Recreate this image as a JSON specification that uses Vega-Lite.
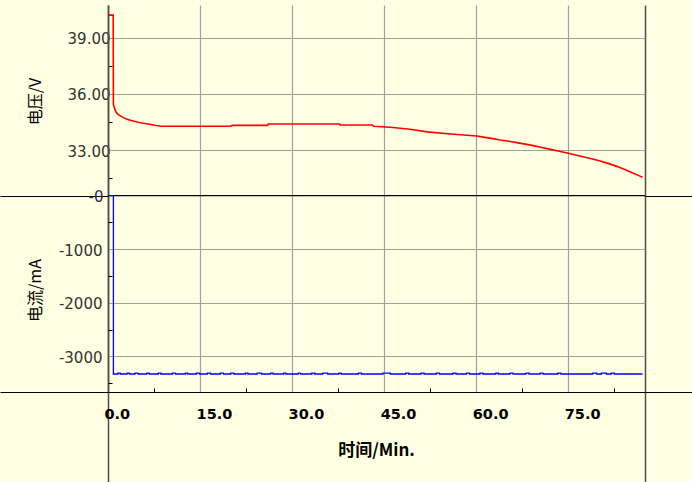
{
  "$schema": "https://vega.github.io/schema/vega-lite/v6.json",
  "width": 537,
  "height": 387,
  "autosize": {"type": "none"},
  "padding": {"left": 108, "top": 5, "right": 47, "bottom": 90},
  "background": "#FFFFE3",
  "config": {"view": {"stroke": null}},
  "datasets": {
    "zero": [{"mA": 0}],
    "voltage": [
      {"t": 0, "V": 40.2}, {"t": 0.85, "V": 40.2}, {"t": 0.88, "V": 35.45}, {"t": 1.0, "V": 35.3},
      {"t": 1.3, "V": 35.04}, {"t": 1.6, "V": 34.93}, {"t": 2.0, "V": 34.83}, {"t": 2.5, "V": 34.74},
      {"t": 3.0, "V": 34.67}, {"t": 3.5, "V": 34.61}, {"t": 4.1, "V": 34.56}, {"t": 4.7, "V": 34.51},
      {"t": 5.3, "V": 34.47}, {"t": 6.0, "V": 34.43}, {"t": 6.8, "V": 34.39}, {"t": 7.6, "V": 34.33},
      {"t": 8.7, "V": 34.28}, {"t": 20.0, "V": 34.28}, {"t": 20.2, "V": 34.33}, {"t": 26.0, "V": 34.33},
      {"t": 26.1, "V": 34.4}, {"t": 37.7, "V": 34.4}, {"t": 37.8, "V": 34.35}, {"t": 43.1, "V": 34.35},
      {"t": 43.3, "V": 34.28}, {"t": 46.0, "V": 34.23}, {"t": 49.2, "V": 34.12}, {"t": 52.0, "V": 33.98},
      {"t": 55.8, "V": 33.87}, {"t": 58.5, "V": 33.8}, {"t": 60.1, "V": 33.76}, {"t": 61.4, "V": 33.69},
      {"t": 62.7, "V": 33.62}, {"t": 63.9, "V": 33.55}, {"t": 65.3, "V": 33.48}, {"t": 66.6, "V": 33.41},
      {"t": 68.0, "V": 33.33}, {"t": 69.3, "V": 33.25}, {"t": 70.7, "V": 33.15}, {"t": 72.1, "V": 33.05},
      {"t": 73.5, "V": 32.95}, {"t": 75.0, "V": 32.84}, {"t": 76.2, "V": 32.75}, {"t": 77.4, "V": 32.66},
      {"t": 78.8, "V": 32.55}, {"t": 80.2, "V": 32.43}, {"t": 81.6, "V": 32.29}, {"t": 83.0, "V": 32.13},
      {"t": 84.3, "V": 31.96}, {"t": 85.6, "V": 31.78}, {"t": 86.5, "V": 31.65}, {"t": 87.1, "V": 31.56}
    ],
    "current": [
      {"t": 0, "mA": 0}, {"t": 0.88, "mA": -3331}, {"t": 1.6, "mA": -3313}, {"t": 2.0, "mA": -3331},
      {"t": 3.1, "mA": -3313}, {"t": 3.5, "mA": -3331}, {"t": 4.4, "mA": -3313}, {"t": 4.9, "mA": -3331},
      {"t": 6.3, "mA": -3313}, {"t": 6.7, "mA": -3331}, {"t": 8.2, "mA": -3313}, {"t": 8.6, "mA": -3331},
      {"t": 10.5, "mA": -3313}, {"t": 11.0, "mA": -3331}, {"t": 12.6, "mA": -3313}, {"t": 13.0, "mA": -3331},
      {"t": 14.4, "mA": -3313}, {"t": 14.9, "mA": -3331}, {"t": 16.2, "mA": -3313}, {"t": 16.7, "mA": -3331},
      {"t": 18.3, "mA": -3313}, {"t": 18.8, "mA": -3331}, {"t": 20.0, "mA": -3313}, {"t": 20.5, "mA": -3331},
      {"t": 22.4, "mA": -3313}, {"t": 22.8, "mA": -3331}, {"t": 24.3, "mA": -3313}, {"t": 25.0, "mA": -3331},
      {"t": 26.5, "mA": -3313}, {"t": 26.9, "mA": -3331}, {"t": 28.6, "mA": -3313}, {"t": 29.0, "mA": -3331},
      {"t": 31.0, "mA": -3313}, {"t": 31.4, "mA": -3331}, {"t": 33.2, "mA": -3313}, {"t": 33.7, "mA": -3331},
      {"t": 35.0, "mA": -3313}, {"t": 35.8, "mA": -3331}, {"t": 37.6, "mA": -3313}, {"t": 38.0, "mA": -3331},
      {"t": 40.8, "mA": -3313}, {"t": 41.3, "mA": -3331}, {"t": 44.8, "mA": -3313}, {"t": 46.0, "mA": -3331},
      {"t": 48.5, "mA": -3313}, {"t": 49.0, "mA": -3331}, {"t": 51.0, "mA": -3313}, {"t": 51.5, "mA": -3331},
      {"t": 53.5, "mA": -3313}, {"t": 54.0, "mA": -3331}, {"t": 56.2, "mA": -3313}, {"t": 56.7, "mA": -3331},
      {"t": 58.4, "mA": -3313}, {"t": 58.9, "mA": -3331}, {"t": 60.6, "mA": -3313}, {"t": 61.1, "mA": -3331},
      {"t": 63.2, "mA": -3313}, {"t": 63.6, "mA": -3331}, {"t": 65.5, "mA": -3313}, {"t": 66.0, "mA": -3331},
      {"t": 68.1, "mA": -3313}, {"t": 68.6, "mA": -3331}, {"t": 70.4, "mA": -3313}, {"t": 70.9, "mA": -3331},
      {"t": 73.3, "mA": -3313}, {"t": 73.8, "mA": -3331}, {"t": 79.0, "mA": -3313}, {"t": 79.6, "mA": -3331},
      {"t": 80.4, "mA": -3313}, {"t": 81.2, "mA": -3331}, {"t": 82.0, "mA": -3313}, {"t": 82.5, "mA": -3331},
      {"t": 87.1, "mA": -3331}
    ]
  },
  "layer": [
    {
      "data": {"name": "zero"},
      "mark": {"type": "rule", "color": "black", "strokeWidth": 1.2},
      "encoding": {
        "y": {
          "field": "mA", "type": "quantitative",
          "scale": {"domain": [-3667, 3562], "nice": false, "zero": false},
          "axis": {
            "orient": "right", "values": [0, -3667], "tickSize": 47, "tickColor": "black", "tickWidth": 1.2,
            "labels": false, "domain": false, "grid": false, "title": null
          }
        }
      }
    },
    {
      "data": {"name": "voltage"},
      "mark": {"type": "line", "color": "#FF0000", "strokeWidth": 1.6},
      "encoding": {
        "x": {
          "field": "t", "type": "quantitative",
          "scale": {"domain": [0, 87.5], "nice": false, "zero": false},
          "axis": {
            "orient": "bottom",
            "values": [0, 7.5, 15, 22.5, 30, 37.5, 45, 52.5, 60, 67.5, 75, 82.5, 87.5],
            "labelExpr": "datum.value % 15 == 0 ? format(datum.value, '.1f') : ''",
            "labelAlign": "left", "labelBaseline": "middle", "labelOffset": -4,
            "labelPadding": {"condition": {"test": "datum.value == 0", "value": -68}, "value": 26},
            "labelFont": "DejaVu Sans", "labelFontWeight": "bold", "labelFontSize": 14.5, "labelColor": "black",
            "labelOverlap": false, "labelFlush": false, "labelBound": false,
            "ticks": true,
            "tickSize": {"condition": {"test": "datum.value == 0 || datum.value == 87.5", "value": 90}, "value": -4},
            "tickColor": {"condition": {"test": "datum.value == 0 || datum.value == 87.5", "value": "#4d4d4d"}, "value": "black"},
            "tickWidth": {"condition": {"test": "datum.value == 0 || datum.value == 87.5", "value": 1.5}, "value": 1},
            "tickOpacity": {"condition": {"test": "datum.value % 15 == 0 && datum.value != 0", "value": 0}, "value": 1},
            "grid": true,
            "gridColor": {"condition": {"test": "datum.value == 0 || datum.value == 87.5", "value": "#4d4d4d"}, "value": "#a0a0a0"},
            "gridWidth": {"condition": {"test": "datum.value == 0 || datum.value == 87.5", "value": 1.5}, "value": 1.2},
            "gridOpacity": {"condition": {"test": "datum.value % 15 == 7.5", "value": 0}, "value": 1},
            "domain": true, "domainColor": "black", "domainWidth": 1.2,
            "title": "时间/Min.", "titleFont": "Noto Sans CJK SC", "titleFontWeight": "bold", "titleFontSize": 17,
            "titleColor": "black", "titleX": 268, "titleY": 58, "titleBaseline": "middle", "titleAlign": "center"
          }
        },
        "y": {
          "field": "V", "type": "quantitative",
          "scale": {"domain": [20.121, 40.742], "nice": false, "zero": false},
          "axis": {
            "orient": "left",
            "values": [39, 37.5, 36, 34.5, 33, 31.5],
            "labelExpr": "datum.value % 3 == 0 ? format(datum.value, '.2f') : ''",
            "labelFont": "DejaVu Sans", "labelFontSize": 15, "labelColor": "#333333",
            "labelPadding": 2, "labelOffset": 1, "labelBaseline": "middle", "labelAlign": "right",
            "labelOverlap": false, "labelBound": false, "labelFlush": false,
            "tickSize": -4, "tickColor": "black", "tickWidth": 1,
            "tickOpacity": {"condition": {"test": "datum.value % 3 == 0", "value": 0}, "value": 1},
            "grid": true, "gridColor": "#a0a0a0", "gridWidth": 1.2,
            "gridOpacity": {"condition": {"test": "datum.value % 3 != 0", "value": 0}, "value": 1},
            "domain": true, "domainColor": "#4d4d4d", "domainWidth": 1.5,
            "title": "电压/V", "titleFont": "Noto Sans CJK SC", "titleFontSize": 16, "titleFontWeight": "normal",
            "titleColor": "black", "titleAngle": -90, "titleX": -73, "titleY": 96,
            "titleBaseline": "middle", "titleAlign": "center"
          }
        }
      }
    },
    {
      "data": {"name": "current"},
      "mark": {"type": "line", "color": "#0000FF", "strokeWidth": 1.3, "interpolate": "step-after"},
      "encoding": {
        "x": {"field": "t", "type": "quantitative", "scale": {"domain": [0, 87.5], "nice": false, "zero": false}},
        "y": {
          "field": "mA", "type": "quantitative",
          "scale": {"domain": [-3667, 3562], "nice": false, "zero": false},
          "axis": {
            "orient": "left",
            "values": [0, -500, -1000, -1500, -2000, -2500, -3000, -3500, -3667],
            "labelExpr": "datum.value == 0 ? '-0' : (datum.value % 1000 == 0 ? '-' + (-datum.value) : '')",
            "labelFont": "DejaVu Sans", "labelFontSize": 15, "labelColor": "#333333",
            "labelPadding": {"condition": {"test": "datum.value == 0", "value": -103}, "value": 10},
            "labelOffset": 1, "labelBaseline": "middle", "labelAlign": "right",
            "labelOverlap": false, "labelBound": false, "labelFlush": false,
            "tickSize": {"condition": {"test": "datum.value == 0 || datum.value < -3600", "value": 108}, "value": -4},
            "tickColor": "black",
            "tickWidth": {"condition": {"test": "datum.value == 0 || datum.value < -3600", "value": 1.2}, "value": 1},
            "tickOpacity": {"condition": {"test": "datum.value % 1000 == 0 && datum.value != 0", "value": 0}, "value": 1},
            "grid": true, "gridColor": "#a0a0a0", "gridWidth": 1.2,
            "gridOpacity": {"condition": {"test": "datum.value % 1000 == 0 && datum.value != 0", "value": 1}, "value": 0},
            "domain": false,
            "title": "电流/mA", "titleFont": "Noto Sans CJK SC", "titleFontSize": 16, "titleFontWeight": "normal",
            "titleColor": "black", "titleAngle": -90, "titleX": -73, "titleY": 285,
            "titleBaseline": "middle", "titleAlign": "center"
          }
        }
      }
    }
  ],
  "resolve": {"scale": {"y": "independent"}, "axis": {"y": "independent"}}
}
